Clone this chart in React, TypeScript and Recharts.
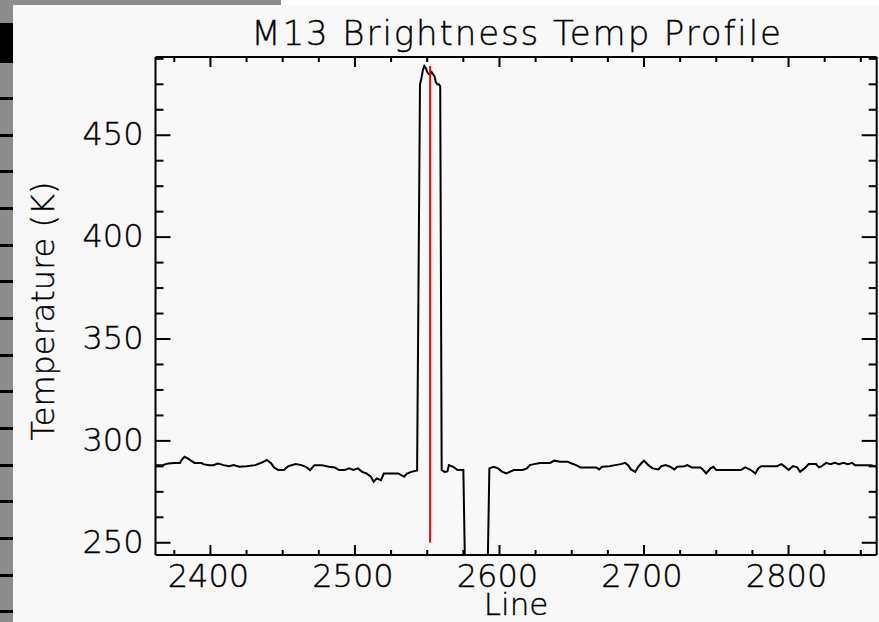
import React from "react";
import { ComposedChart, Line, XAxis, YAxis, ReferenceLine, Label } from "recharts";

// scan line numbers and brightness temperatures
const lineNumbers = [
  2362, 2367, 2369, 2371, 2375, 2379, 2380, 2382, 2384, 2386, 2389, 2394, 2395, 2399,
  2402, 2405, 2407, 2409, 2413, 2416, 2420, 2425, 2431, 2436, 2439, 2442, 2444, 2447,
  2451, 2452, 2454, 2459, 2463, 2466, 2469, 2472, 2477, 2482, 2486, 2489, 2493, 2496,
  2499, 2502, 2505, 2508, 2511, 2513, 2515, 2518, 2520, 2524, 2530, 2534, 2536, 2539,
  2542, 2543, 2544, 2545, 2546, 2547, 2548, 2549, 2550, 2551, 2552, 2553, 2554, 2555,
  2556, 2557, 2558, 2559, 2560, 2562, 2564, 2565, 2568, 2571, 2575, 2576, 2592, 2593,
  2596, 2599, 2602, 2605, 2607, 2610, 2616, 2619, 2621, 2624, 2628, 2635, 2638, 2642,
  2647, 2650, 2653, 2656, 2667, 2669, 2671, 2676, 2680, 2684, 2687, 2689, 2691, 2694,
  2696, 2698, 2700, 2703, 2706, 2710, 2712, 2715, 2718, 2721, 2723, 2728, 2730, 2733,
  2739, 2741, 2743, 2746, 2748, 2750, 2767, 2770, 2774, 2777, 2779, 2781, 2792, 2795,
  2797, 2800, 2803, 2806, 2808, 2811, 2814, 2819, 2821, 2823, 2826, 2829, 2832, 2835,
  2838, 2841, 2844, 2846, 2857, 2861,
];
const temperatures = [
  288.1, 288.1, 288.6, 288.9, 289.2, 289.2, 290.6, 292.2, 291.5, 290.6, 289.2, 289.2, 288.6, 288.1,
  288.1, 288.9, 288.6, 288.1, 287.6, 288.1, 287.3, 287.6, 288.1, 289.5, 290.6, 289.0, 287.0, 285.7,
  285.7, 286.5, 287.6, 288.6, 288.1, 287.3, 285.7, 288.1, 288.1, 287.3, 287.0, 285.7, 285.7, 286.5,
  285.7, 286.5, 284.8, 284.0, 282.4, 279.9, 281.6, 280.7, 284.0, 284.0, 284.0, 282.4, 284.0, 284.8,
  285.3, 285.5, 380.0, 475.0, 478.0, 482.0, 484.0, 483.0, 481.0, 480.0, 480.0, 481.0, 480.0, 479.0,
  476.0, 475.0, 475.0, 474.0, 285.7, 284.8, 285.0, 288.1, 287.3, 285.7, 285.7, 244.0, 244.0, 286.5,
  287.3, 286.5, 284.8, 284.0, 284.8, 285.7, 285.7, 286.5, 288.1, 288.6, 289.2, 289.2, 290.3, 289.8,
  289.8, 288.9, 288.1, 287.0, 287.0, 286.0, 287.3, 287.6, 288.1, 288.6, 289.2, 288.1, 286.0, 284.8,
  287.3, 288.9, 290.3, 288.1, 286.5, 286.0, 287.6, 288.1, 287.3, 286.0, 287.3, 287.6, 288.1, 287.0,
  287.0, 285.7, 284.0, 286.5, 287.3, 285.7, 285.7, 287.0, 285.7, 284.0, 286.5, 287.6, 287.6, 288.6,
  287.6, 285.7, 287.6, 287.0, 284.8, 286.5, 288.6, 288.6, 287.0, 287.6, 289.2, 288.6, 289.2, 288.6,
  289.2, 288.6, 289.2, 288.1, 288.1, 287.3,
];

const xDomain = [2362, 2861];
const yDomain = [244, 488.4];
const xTicks = [
  2375, 2400, 2425, 2450, 2475, 2500, 2525, 2550, 2575, 2600, 2625, 2650, 2675, 2700,
  2725, 2750, 2775, 2800, 2825, 2850,
];
const xLabels = [2400, 2500, 2600, 2700, 2800];
const yTicks = [
  250, 262.5, 275, 287.5, 300, 312.5, 325, 337.5, 350, 362.5, 375, 387.5, 400, 412.5,
  425, 437.5, 450, 462.5, 475, 487.5,
];
const yLabels = [250, 300, 350, 400, 450];
const markerLine = 2552;
const markerRange = [250, 484];

const data = lineNumbers.map((line, i) => ({ line, temp: temperatures[i] }));

const FONT = "'DejaVu Sans', sans-serif";
const WEIGHT = 200;
const INK = "#000";
// thin vector-font look: light face with a faint outline to darken it
const textStyle = { fontFamily: FONT, fontWeight: WEIGHT, fill: INK, stroke: INK, strokeWidth: 0.35 };

function XTick(side: "bottom" | "top") {
  return (props: any) => {
    const { x, y, payload } = props;
    const major = xLabels.includes(payload.value);
    const len = major ? 10 : 5;
    const dir = side === "bottom" ? -1 : 1;
    return (
      <g>
        <line x1={x} x2={x} y1={y} y2={y + dir * len} stroke="#000" strokeWidth={2} />
        {side === "bottom" && major && (
          <text x={x - 2} y={y + 32} textAnchor="middle" fontSize={32} style={textStyle}>
            {payload.value}
          </text>
        )}
      </g>
    );
  };
}

function YTick(side: "left" | "right") {
  return (props: any) => {
    const { x, y, payload } = props;
    const major = yLabels.includes(payload.value);
    const len = major ? 15 : 8;
    const dir = side === "left" ? 1 : -1;
    return (
      <g>
        <line x1={x} x2={x + dir * len} y1={y} y2={y} stroke="#000" strokeWidth={2} />
        {side === "left" && major && (
          <text x={x - 12} y={y + 10} textAnchor="end" fontSize={32} style={textStyle}>
            {payload.value}
          </text>
        )}
      </g>
    );
  };
}

export default function App() {
  const stripeMarks = Array.from({ length: 15 }, (_, k) => 97 + k * 36.67);
  return (
    <div style={{ position: "absolute", left: 0, top: 0, width: 879, height: 622, background: "#f8f8f8", overflow: "hidden" }}>
      <div style={{ position: "absolute", left: 0, top: 0, width: 879, height: 5, background: "#fff" }} />
      <div style={{ position: "absolute", left: 0, top: 0, width: 281, height: 5, background: "#8c8c8c" }} />
      <div style={{ position: "absolute", left: 0, top: 0, width: 13, height: 622, background: "#8c8c8c" }} />
      <div style={{ position: "absolute", left: 0, top: 23, width: 13, height: 40, background: "#000" }} />
      {stripeMarks.map((t) => (
        <div key={t} style={{ position: "absolute", left: 0, top: t, width: 13, height: 3, background: "#000" }} />
      ))}
      <div style={{ position: "absolute", left: 0, top: 0 }}>
        <ComposedChart
          width={879}
          height={622}
          data={data}
          margin={{ top: 56, right: 1.3, bottom: 66, left: 154.5 }}
        >
          <XAxis
            xAxisId="b"
            dataKey="line"
            type="number"
            domain={xDomain}
            allowDataOverflow
            ticks={xTicks}
            interval={0}
            height={1}
            tickSize={0}
            tickMargin={0}
            tickLine={false}
            axisLine={{ stroke: "#000", strokeWidth: 2 }}
            tick={XTick("bottom")}
          >
            <Label
              content={(p: any) => (
                <text
                  x={p.viewBox.x + p.viewBox.width / 2}
                  y={p.viewBox.y + 60}
                  textAnchor="middle"
                  fontSize={31}
                  style={textStyle}
                >
                  Line
                </text>
              )}
            />
          </XAxis>
          <XAxis
            xAxisId="t"
            orientation="top"
            dataKey="line"
            type="number"
            domain={xDomain}
            allowDataOverflow
            ticks={xTicks}
            interval={0}
            height={1}
            tickSize={0}
            tickMargin={0}
            tickLine={false}
            axisLine={{ stroke: "#000", strokeWidth: 2 }}
            tick={XTick("top")}
          >
            <Label
              content={(p: any) => (
                <text
                  x={p.viewBox.x + p.viewBox.width / 2 + 1}
                  y={p.viewBox.y + p.viewBox.height - 12}
                  textAnchor="middle"
                  fontSize={34}
                  letterSpacing={1.9}
                  style={textStyle}
                >
                  M13 Brightness Temp Profile
                </text>
              )}
            />
          </XAxis>
          <YAxis
            yAxisId="l"
            type="number"
            domain={yDomain}
            allowDataOverflow
            ticks={yTicks}
            interval={0}
            width={1}
            tickSize={0}
            tickMargin={0}
            tickLine={false}
            axisLine={{ stroke: "#000", strokeWidth: 2 }}
            tick={YTick("left")}
          >
            <Label
              content={(p: any) => {
                const cx = 54;
                const cy = p.viewBox.y + p.viewBox.height / 2 + 5;
                return (
                  <text
                    x={cx}
                    y={cy}
                    transform={`rotate(-90 ${cx} ${cy})`}
                    textAnchor="middle"
                    fontSize={32}
                    style={textStyle}
                  >
                    Temperature (K)
                  </text>
                );
              }}
            />
          </YAxis>
          <YAxis
            yAxisId="r"
            orientation="right"
            type="number"
            domain={yDomain}
            allowDataOverflow
            ticks={yTicks}
            interval={0}
            width={1}
            tickSize={0}
            tickMargin={0}
            tickLine={false}
            axisLine={{ stroke: "#000", strokeWidth: 2 }}
            tick={YTick("right")}
          />
          <Line
            xAxisId="b"
            yAxisId="l"
            type="linear"
            dataKey="temp"
            stroke="#000"
            strokeWidth={2}
            dot={false}
            isAnimationActive={false}
          />
          <ReferenceLine
            xAxisId="b"
            yAxisId="l"
            segment={[
              { x: markerLine, y: markerRange[0] },
              { x: markerLine, y: markerRange[1] },
            ]}
            stroke="#ff0000"
            strokeWidth={2}
          />
        </ComposedChart>
      </div>
    </div>
  );
}
